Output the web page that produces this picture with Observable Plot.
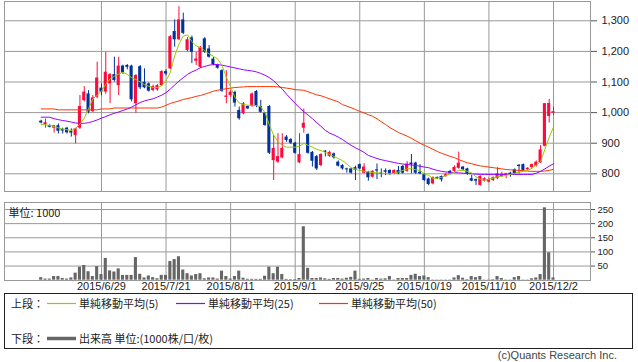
<!DOCTYPE html>
<html><head><meta charset="utf-8">
<script src="https://cdn.jsdelivr.net/npm/d3@7"></script>
<script src="https://cdn.jsdelivr.net/npm/@observablehq/plot@0.6"></script>
<style>
body{margin:0;background:#fff;}
#wrap{position:relative;width:638px;height:362px;overflow:hidden;background:#fff;color:#222;font-family:"Liberation Sans","Noto Sans CJK JP",sans-serif;}
#price,#vol{position:absolute;left:0;}
#price{top:0}
#vol{top:195px}
#price svg,#vol svg{overflow:visible;display:block}
#legend{position:absolute;left:4px;top:293px;width:629px;height:56px;border:1px solid #222;box-sizing:border-box;font-family:"Noto Sans CJK JP",sans-serif;font-size:11px;color:#222}
#legend span{position:absolute;white-space:nowrap;line-height:14px}
#legend svg{position:absolute;left:0;top:0;overflow:visible}
#copy{position:absolute;right:21px;top:349px;font-size:11px;font-family:"Liberation Sans",sans-serif;color:#444}
</style></head>
<body><div id="wrap"><div id="price"></div><div id="vol"></div>
<div id="legend"></div><div id="copy">(c)Quants Research Inc.</div></div>
<script>
// ---- data (daily, 120 sessions from 2015/6/9 to 2015/12/2) ----
const open = [972,960,958,949,957,945,949,939,925,949,
1039,1061,1003,1050,1080,1067,1094,1124,1088,1152,
1154,1152,1029,1150,1099,1094,1072,1074,1088,1134,
1143,1265,1238,1303,1203,1244,1168,1148,1241,1208,
1175,1154,1137,1050,1056,1066,1007,996,1020,1020,
1069,1020,998,1020,843,838,852,920,912,900,
836,949,928,870,856,827,874,857,865,838,
827,816,816,820,830,802,805,789,813,802,
810,811,800,811,824,808,835,835,805,797,
783,767,788,791,791,808,808,818,822,816,
784,781,762,776,773,778,784,791,795,802,
813,828,830,813,820,825,836,890,987,998];
const high = [975,979,960,958,963,949,952,947,949,1056,
1085,1072,1056,1165,1094,1197,1128,1181,1181,1155,
1157,1155,1124,1154,1143,1097,1090,1092,1137,1140,
1252,1303,1346,1325,1245,1250,1197,1216,1245,1219,
1180,1158,1140,1137,1072,1070,1018,1033,1022,1064,
1072,1040,1000,1023,925,931,931,925,915,903,
931,1012,931,873,860,866,876,874,868,842,
830,818,818,825,832,833,808,810,832,816,
816,813,813,824,827,840,863,838,830,800,
786,790,790,793,802,811,826,871,824,818,
795,783,794,787,786,790,820,805,802,805,
816,830,832,820,832,842,892,1030,1043,1018];
const low = [963,949,950,933,930,930,930,920,898,945,
1035,996,1000,1045,1055,1060,1029,1100,1056,1125,
1140,1035,998,1075,1078,1067,1068,1070,1085,1120,
1140,1214,1235,1255,1198,1160,1154,1144,1193,1178,
1153,1142,1066,1029,1050,1018,975,993,1010,1017,
1016,998,955,863,778,834,849,903,896,864,
833,933,864,822,811,823,855,853,848,822,
812,802,799,778,813,800,776,786,781,787,
794,795,797,797,799,805,800,798,797,775,
761,764,781,773,789,797,805,815,810,795,
774,762,760,773,770,775,781,789,784,789,
796,800,808,811,818,822,834,888,966,990];
const close = [966,967,952,957,939,940,934,933,947,1020,
1067,1001,1048,1113,1067,1132,1124,1105,1152,1129,
1148,1042,1121,1081,1081,1070,1085,1088,1134,1126,
1248,1238,1303,1259,1238,1197,1175,1212,1197,1181,
1157,1145,1070,1054,1067,1031,980,1029,1012,1061,
1020,1001,958,867,883,856,883,909,900,867,
863,965,867,841,816,863,870,870,852,825,
816,813,802,812,816,822,787,808,809,798,
805,798,811,800,802,832,830,802,800,778,
765,787,784,780,797,800,821,835,813,798,
776,776,791,784,781,787,800,797,800,798,
800,824,811,818,830,838,878,1029,1030,1003];
const volume = [9,4,4,13,13,6,4,8,25,46,
52,30,13,48,20,77,33,29,40,17,
17,17,80,21,8,15,9,5,17,17,
66,73,83,36,23,15,20,23,5,8,
8,4,32,13,4,13,32,7,3,3,
3,3,14,46,23,46,20,3,2,2,
6,189,42,6,6,8,5,3,6,6,
4,7,10,32,3,4,6,1,6,4,
5,13,1,6,6,6,17,21,13,15,
9,1,1,1,1,1,8,16,7,2,
13,9,13,1,1,2,13,6,1,1,
9,13,1,1,5,8,20,256,97,8];
const ma5 = [961,960,958,954,950,946,944,942,948,963,
982,1012,1045,1057,1070,1093,1110,1119,1126,1132,
1125,1114,1108,1100,1091,1086,1082,1082,1088,1104,
1132,1185,1224,1250,1254,1232,1218,1213,1202,1192,
1184,1175,1154,1116,1084,1050,1031,1026,1024,1024,
1023,1019,1000,960,926,905,893,887,887,887,
890,900,893,887,880,876,870,863,857,850,
843,832,820,815,811,808,806,804,803,802,
801,800,802,806,811,816,817,813,811,800,
795,785,786,788,795,800,805,811,811,808,
803,790,782,779,782,786,790,792,795,798,
802,806,808,811,818,828,840,880,919,953];
const ma25 = [985,985,985,980,977,974,972,969,966,965,
965,967,971,976,982,987,993,998,1002,1007,
1012,1018,1025,1033,1038,1042,1045,1051,1057,1065,
1077,1090,1103,1114,1125,1133,1139,1147,1151,1155,
1157,1157,1155,1152,1149,1146,1143,1140,1138,1136,
1133,1128,1122,1114,1104,1090,1077,1060,1045,1030,
1016,1003,992,980,967,955,942,933,927,920,
912,902,893,885,878,870,860,855,850,846,
843,840,837,834,832,830,829,827,825,822,
820,815,811,808,806,805,804,803,802,801,
800,799,798,798,798,798,798,798,798,798,
798,798,798,798,798,802,808,816,825,833];
const ma50 = [1012,1012,1012,1012,1009,1009,1009,1009,1009,1009,
1009,1009,1009,1009,1012,1012,1012,1015,1015,1015,
1015,1015,1015,1015,1015,1015,1015,1015,1018,1024,
1030,1034,1038,1043,1046,1049,1053,1056,1060,1065,
1070,1073,1076,1078,1080,1082,1083,1084,1085,1085,
1085,1085,1085,1085,1085,1084,1082,1080,1078,1075,
1074,1073,1068,1063,1058,1055,1050,1045,1040,1035,
1026,1021,1016,1010,1004,999,993,988,980,970,
961,951,943,935,929,923,916,908,900,893,
887,880,873,867,862,857,853,846,841,836,
833,829,826,824,822,820,818,816,814,813,
812,811,810,809,808,808,808,809,811,815];
const priceTicks = [800,900,1000,1100,1200,1300];
const volTicks = [50,100,150,200,250];
const dateTickIndex = [14,29,44,59,74,89,104,119];
const dateTickLabels = ["2015/6/29","2015/7/21","2015/8/11","2015/9/1","2015/9/25","2015/10/19","2015/11/10","2015/12/2"];

// ---- build ----
const RED = "#ff0a3c", BLUE = "#00339a", GRID = "#999";
const candles = open.map((o, i) => ({i, open: o, high: high[i], low: low[i], close: close[i]}));
const colorOf = d => d.close >= d.open ? RED : BLUE;
const vols = volume.map((v, i) => ({i, v}));
const line = arr => arr.map((v, i) => ({i, v}));
const xScale = {domain: [0, 119], range: [40.7, 553], axis: null};

const price = Plot.plot({
  width: 638, height: 195,
  marginLeft: 4, marginRight: 48, marginTop: 1, marginBottom: 4,
  x: xScale,
  y: {domain: [800, 1300], range: [173.3, 20.3], axis: null, label: null},
  style: {fontFamily: "'Liberation Sans', sans-serif", fontSize: "11px", color: "#222", background: "transparent"},
  marks: [
    Plot.ruleY(priceTicks, {stroke: GRID, strokeWidth: 1}),
    Plot.ruleX(dateTickIndex, {stroke: GRID, strokeWidth: 1}),
    Plot.frame({stroke: GRID}),
    Plot.ruleX(candles, {x: "i", y1: "low", y2: "high", stroke: colorOf, strokeWidth: 1}),
    Plot.rect(candles, {x1: d => d.i - 0.36, x2: d => d.i + 0.36, y1: "open", y2: "close", fill: colorOf}),
    Plot.line(line(ma50), {x: "i", y: "v", stroke: "#ff3300", strokeWidth: 1}),
    Plot.line(line(ma25), {x: "i", y: "v", stroke: "#9900ff", strokeWidth: 1}),
    Plot.line(line(ma5), {x: "i", y: "v", stroke: "#99cc00", strokeWidth: 1}),
    Plot.axisY(priceTicks, {anchor: "right", label: null, tickFormat: d3.format(","), tickSize: 6, tickPadding: 5, stroke: "#555", fontSize: 11})
  ]
});
document.getElementById("price").append(price);

const vol = Plot.plot({
  width: 638, height: 100,
  marginLeft: 4, marginRight: 48, marginTop: 7, marginBottom: 15,
  x: xScale,
  y: {domain: [0, 250], range: [84.7, 14], axis: null, label: null},
  style: {fontFamily: "'Liberation Sans', sans-serif", fontSize: "11px", color: "#222", background: "transparent"},
  marks: [
    Plot.ruleY(volTicks, {stroke: GRID, strokeWidth: 1}),
    Plot.ruleX(dateTickIndex, {stroke: GRID, strokeWidth: 1}),
    Plot.frame({stroke: GRID}),
    Plot.rect(vols, {x1: d => d.i - 0.36, x2: d => d.i + 0.36, y1: 0, y2: "v", fill: "#666"}),
    Plot.text(["単位: 1000"], {frameAnchor: "top-left", dx: 4, dy: 7, textAnchor: "start", fontSize: 11, fill: "#222", fontFamily: "'Noto Sans CJK JP', sans-serif"}),
    Plot.axisY(volTicks, {anchor: "right", label: null, tickSize: 4, tickPadding: 3, stroke: "#555", fontSize: 9.5}),
    Plot.axisX(dateTickIndex, {anchor: "bottom", label: null, tickSize: 0, tickPadding: 2, fontSize: 11, tickFormat: d => dateTickLabels[dateTickIndex.indexOf(d)]})
  ]
});
document.getElementById("vol").append(vol);

// ---- legend ----
const legendItems = [
  {row: 0, x: 6, label: "上段："},
  {row: 0, x: 74, sw: "#99cc00", label: "単純移動平均(5)"},
  {row: 0, x: 203, sw: "#9900ff", label: "単純移動平均(25)"},
  {row: 0, x: 346, sw: "#ff3300", label: "単純移動平均(50)"},
  {row: 1, x: 6, label: "下段："},
  {row: 1, x: 74, sw: "#666", thick: true, label: "出来高 単位:(1000株/口/枚)"}
];
const leg = document.getElementById("legend");
const NS = "http://www.w3.org/2000/svg";
const lsvg = document.createElementNS(NS, "svg");
lsvg.setAttribute("width", 627); lsvg.setAttribute("height", 54);
leg.append(lsvg);
legendItems.forEach(it => {
  const y = it.row === 0 ? 2 : 37;
  if (it.sw) {
    const ln = document.createElementNS(NS, "line");
    ln.setAttribute("x1", it.x - 32); ln.setAttribute("x2", it.x - 3);
    ln.setAttribute("y1", y + 7.5); ln.setAttribute("y2", y + 7.5);
    ln.setAttribute("stroke", it.sw);
    ln.setAttribute("stroke-width", it.thick ? 3.5 : 1.2);
    lsvg.append(ln);
  }
  const s = document.createElement("span");
  s.textContent = it.label;
  s.style.left = it.x + "px";
  s.style.top = y + "px";
  leg.append(s);
});
</script></body></html>
